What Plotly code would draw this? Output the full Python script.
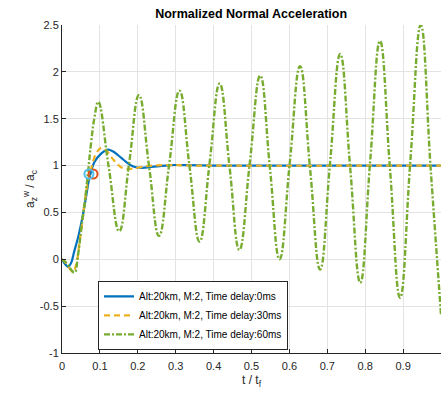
import plotly.graph_objects as go

# Normalized normal acceleration responses for three autopilot time delays
t_0ms = [0, 0.008, 0.016, 0.024, 0.032, 0.044, 0.055, 0.064, 0.073, 0.086,
         0.104, 0.121, 0.135, 0.148, 0.157, 0.169, 0.188, 0.21, 0.236, 0.289,
         0.33, 0.4, 0.5, 1.0]
a_0ms = [0, -0.05, -0.08, -0.04, 0.08, 0.26, 0.47, 0.68, 0.88, 1.04,
         1.13, 1.17, 1.15, 1.11, 1.08, 1.04, 0.99, 0.975, 0.985, 1.005,
         1.005, 1.0, 1.0, 1.0]

t_30ms = [0, 0.01, 0.02, 0.029, 0.038, 0.046, 0.053, 0.06, 0.068, 0.077,
          0.09, 0.104, 0.117, 0.13, 0.145, 0.157, 0.17, 0.183, 0.205, 0.227,
          0.28, 0.35, 1.0]
a_30ms = [0, -0.04, -0.10, -0.135, -0.05, 0.18, 0.38, 0.61, 0.82, 0.97,
          1.13, 1.19, 1.16, 1.09, 1.02, 0.98, 0.965, 0.965, 0.98, 0.995,
          1.005, 1.0, 1.0]

t_60ms = [0, 0.012, 0.022, 0.033, 0.042, 0.051, 0.06, 0.068, 0.077, 0.086,
          0.0956, 0.123, 0.151, 0.177, 0.203, 0.2295, 0.256, 0.283, 0.31,
          0.3365, 0.363, 0.3895, 0.416, 0.442, 0.468, 0.4955, 0.523, 0.5485,
          0.574, 0.601, 0.628, 0.6545, 0.681, 0.7075, 0.734, 0.7605, 0.787,
          0.813, 0.839, 0.8655, 0.892, 0.919, 0.9466, 0.973, 1.0]
a_60ms = [0, -0.04, -0.10, -0.14, 0.04, 0.33, 0.61, 0.90, 1.25, 1.52,
          1.68, 0.99, 0.30, 1.02, 1.75, 1.00, 0.25, 1.02, 1.80,
          0.99, 0.19, 1.03, 1.875, 0.99, 0.10, 1.03, 1.96, 0.98,
          0.0, 1.03, 2.06, 0.97, -0.11, 1.04, 2.19, 0.97, -0.25,
          1.04, 2.33, 0.96, -0.41, 1.04, 2.50, 0.95, -0.59]

# 90 % rise-time markers
rise_t = [0.082, 0.071]
rise_a = [0.91, 0.91]
rise_colors = ["#D95319", "#4DBEEE"]

series_names = ["Alt:20km, M:2, Time delay:0ms",
                "Alt:20km, M:2, Time delay:30ms",
                "Alt:20km, M:2, Time delay:60ms"]

x_ticks = [0, 0.1, 0.2, 0.3, 0.4, 0.5, 0.6, 0.7, 0.8, 0.9, 1.0]
x_tick_labels = ["0", "0.1", "0.2", "0.3", "0.4", "0.5", "0.6", "0.7", "0.8", "0.9", "1"]
y_ticks = [-1, -0.5, 0, 0.5, 1, 1.5, 2, 2.5]
y_tick_labels = ["-1", "-0.5", "0", "0.5", "1", "1.5", "2", "2.5"]

FONT = "Liberation Sans, Arial, Helvetica, sans-serif"
INK = "#262626"

fig = go.Figure()
fig.add_trace(go.Scatter(
    x=t_0ms, y=a_0ms, mode="lines", name=series_names[0],
    line=dict(color="#0072BD", width=2.2, shape="spline", smoothing=1.0)))
fig.add_trace(go.Scatter(
    x=t_30ms, y=a_30ms, mode="lines", name=series_names[1],
    line=dict(color="#EDB120", width=2.2, dash="6px,4px", shape="spline", smoothing=1.0)))
fig.add_trace(go.Scatter(
    x=t_60ms, y=a_60ms, mode="lines", name=series_names[2],
    line=dict(color="#77AC30", width=2.4, dash="6px,2px,2px,2px", shape="spline", smoothing=1.3)))
for tx, ay, col in zip(rise_t, rise_a, rise_colors):
    fig.add_trace(go.Scatter(
        x=[tx], y=[ay], mode="markers", showlegend=False,
        marker=dict(symbol="circle-open", size=9, color=col, line=dict(width=2, color=col))))

fig.update_layout(
    width=441, height=394,
    margin=dict(l=62, r=0, t=25, b=41),
    paper_bgcolor="white", plot_bgcolor="white",
    font=dict(family=FONT, size=11, color=INK),
    title=dict(text="<b>Normalized Normal Acceleration</b>", x=0.5695, xanchor="center",
               y=1 - 14 / 394, yanchor="middle", font=dict(size=12.5, color="black")),
    legend=dict(x=0.095, y=0.22, xanchor="left", yanchor="top",
                bgcolor="white", bordercolor=INK, borderwidth=1,
                font=dict(size=10, color="black"), tracegroupgap=0),
    showlegend=True,
)
fig.update_xaxes(
    range=[0, 1], tickvals=x_ticks, ticktext=x_tick_labels,
    showline=True, linecolor=INK, linewidth=1, mirror=False,
    ticks="inside", ticklen=4, tickcolor=INK, ticklabelstandoff=3,
    showgrid=True, gridcolor="#e3e3e3", gridwidth=1, zeroline=False,
    title=dict(text="t / t<sub>f</sub>", font=dict(size=12, color=INK), standoff=4))
fig.update_yaxes(
    range=[-1, 2.5], tickvals=y_ticks, ticktext=y_tick_labels,
    showline=True, linecolor=INK, linewidth=1, mirror=False,
    ticks="inside", ticklen=4, tickcolor=INK,
    showgrid=True, gridcolor="#e3e3e3", gridwidth=1, zeroline=False,
    title=dict(text="a<sub>z</sub><sup>w</sup> / a<sub>c</sub>", font=dict(size=12, color=INK), standoff=2))

fig.write_html("out.html")
